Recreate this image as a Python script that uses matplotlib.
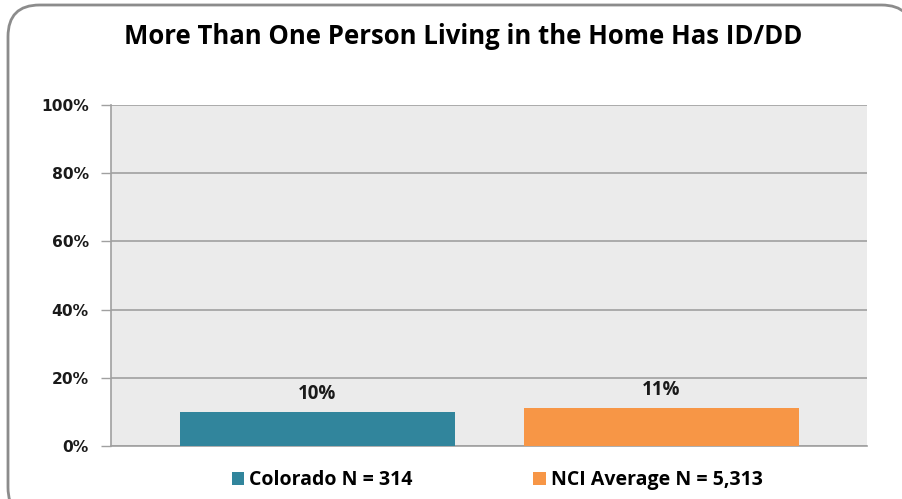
import matplotlib
matplotlib.use("Agg")
import matplotlib.pyplot as plt
from matplotlib.patches import FancyBboxPatch, Patch

# data
series = ["Colorado N = 314", "NCI Average N = 5,313"]
values = [10, 11]
value_labels = ["10%", "11%"]
colors = ["#31859C", "#F79646"]
yticks = [0, 20, 40, 60, 80, 100]
title = "More Than One Person Living in the Home Has ID/DD"

W, H = 903, 499
fig = plt.figure(figsize=(W / 100, H / 100), dpi=100)

# rounded chart border
border = FancyBboxPatch((8 / W, -20 / H), (W + 10 - 8) / W, (H - 5 + 20) / H,
                        boxstyle="round,pad=0,rounding_size=0.035",
                        transform=fig.transFigure, facecolor="white",
                        edgecolor="#8C8C8C", linewidth=2, zorder=-5,
                        mutation_aspect=W / H)
fig.patches.append(border)

ax = fig.add_axes([111 / W, 53 / H, (867 - 111) / W, (446 - 105) / H])
ax.set_facecolor("#EBEBEB")

# bar positions: one category, two series in a cluster
x = [0, 1]
width = 275 / 344
ax.bar(x, values, width=width, color=colors, zorder=3)
for xi, v, lab in zip(x, values, value_labels):
    ax.text(xi, v + 2.4, lab, ha="center", va="bottom", fontsize=13.5,
            fontweight="bold", family="Open Sans", color="#1A1A1A")

ax.set_xlim(x[0] - width / 2 - 69 / 344, x[1] + width / 2 + 68 / 344)
ax.set_ylim(0, 100)
ax.set_yticks(yticks)
ax.set_yticklabels([f"{t}%" for t in yticks], fontsize=11.2,
                   fontweight="bold", family="DejaVu Sans", color="#1A1A1A")
ax.set_xticks([])
ax.tick_params(axis="y", length=7, width=1, color="#A0A0A0", pad=9)
ax.yaxis.grid(True, color="#A6A6A6", linewidth=1.3, zorder=1)
ax.set_axisbelow(True)
for s in ["top", "right"]:
    ax.spines[s].set_visible(False)
for s in ["left", "bottom"]:
    ax.spines[s].set_color("#A0A0A0")
    ax.spines[s].set_linewidth(1.2)

fig.text(463 / W, 1 - 37 / H, title, ha="center", va="center", fontsize=18.5,
         fontweight="bold", family="Open Sans", color="#000000")

handles = [Patch(facecolor=c, edgecolor="none") for c in colors]
leg = fig.legend(handles, series, loc="center", bbox_to_anchor=(497 / W, 1 - 480 / H),
                 ncol=2, frameon=False, handlelength=0.65, handleheight=0.65,
                 handletextpad=0.25, columnspacing=6.2,
                 prop={"family": "Open Sans", "weight": "bold", "size": 14})

fig.savefig("out.png", dpi=100)
